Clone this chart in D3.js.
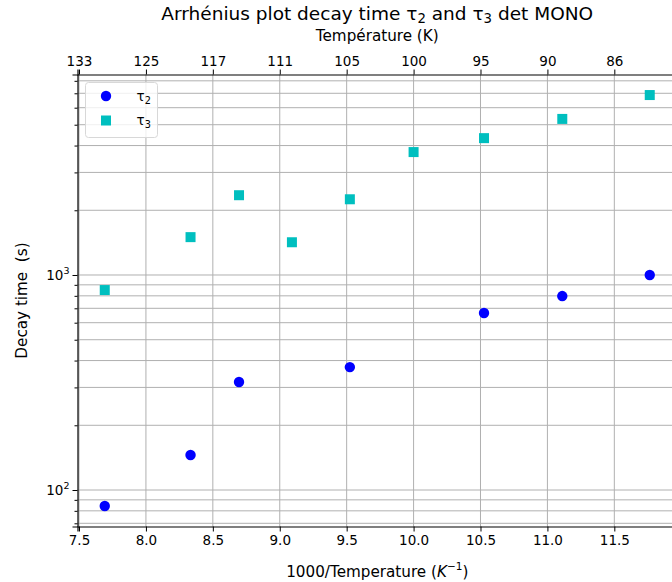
<!DOCTYPE html>
<html>
<head>
<meta charset="utf-8">
<script src="https://cdn.jsdelivr.net/npm/d3@7"></script>
<style>
  body { margin: 0; background: #fff; }
  svg { font-family: "DejaVu Sans", sans-serif; }
</style>
</head>
<body>
<div id="vizcont"></div>
<script>
// temperatures (K) of the measurements
var tempTau3 = [130, 120, 115, 110, 105, 100, 95, 90, 85];
var tau3 = [851, 1500, 2350, 1420, 2250, 3730, 4330, 5320, 6870];
var tempTau2 = [130, 120, 115, 105, 95, 90, 85];
var tau2 = [84.3, 145.5, 318, 373, 666, 798, 1000];

// top axis tick labels (temperature at the bottom ticks, truncated)
var xTicks = [7.5, 8.0, 8.5, 9.0, 9.5, 10.0, 10.5, 11.0, 11.5];
var topTickLabels = ["133", "125", "117", "111", "105", "100", "95", "90", "86"];

var W = 672, H = 582;
var margin = {top: 74.5, left: 77.5, bottom: 526.5, right: 677};

var svg = d3.select("#vizcont").append("svg")
    .attr("width", W).attr("height", H);

var inv = tempTau3.map(function(t) { return 1000 / t; });
var xe = d3.extent(inv), xpad = (xe[1] - xe[0]) * 0.05;
var x = d3.scaleLinear().domain([xe[0] - xpad, xe[1] + xpad]).range([margin.left, margin.right]);

var allY = tau2.concat(tau3).map(function(v) { return Math.log10(v); });
var ye = d3.extent(allY), ypad = (ye[1] - ye[0]) * 0.05;
var y = d3.scaleLog().domain([Math.pow(10, ye[0] - ypad), Math.pow(10, ye[1] + ypad)])
    .range([margin.bottom, margin.top]);

var gridColor = "#b0b0b0";

// minor + major y values
var yMajor = [100, 1000];
var yMinor = [];
[10, 100, 1000].forEach(function(dec) {
  for (var k = 2; k <= 9; k++) {
    var v = dec * k;
    if (v >= y.domain()[0] && v <= y.domain()[1]) yMinor.push(v);
  }
});

var grid = svg.append("g");
grid.selectAll(".gy").data(yMajor.concat(yMinor)).enter().append("line")
  .attr("x1", margin.left).attr("x2", margin.right)
  .attr("y1", function(d) { return y(d); }).attr("y2", function(d) { return y(d); })
  .attr("stroke", gridColor).attr("stroke-width", 1);
grid.selectAll(".gx").data(xTicks).enter().append("line")
  .attr("x1", function(d) { return x(d); }).attr("x2", function(d) { return x(d); })
  .attr("y1", margin.top).attr("y2", margin.bottom)
  .attr("stroke", gridColor).attr("stroke-width", 1);

// bottom axis
var gb = svg.append("g").attr("transform", "translate(0," + margin.bottom + ")")
  .call(d3.axisBottom(x).tickValues(xTicks).tickFormat(d3.format(".1f")).tickSize(5).tickPadding(4));
// top axis
var gt = svg.append("g").attr("transform", "translate(0," + margin.top + ")")
  .call(d3.axisTop(x).tickValues(xTicks).tickFormat(function(d, i) { return topTickLabels[i]; }).tickSize(5).tickPadding(4));
// left axis major
var gl = svg.append("g").attr("transform", "translate(" + margin.left + ",0)")
  .call(d3.axisLeft(y).tickValues(yMajor).tickFormat("").tickSize(5));
var glm = svg.append("g").attr("transform", "translate(" + margin.left + ",0)")
  .call(d3.axisLeft(y).tickValues(yMinor).tickFormat("").tickSize(3));

[gb, gt, gl, glm].forEach(function(g) {
  g.selectAll("text").attr("font-size", "13.5px").attr("fill", "#000")
    .attr("font-family", "DejaVu Sans");
  g.selectAll("line").attr("stroke", "#000").attr("stroke-width", 1);
  g.select(".domain").attr("stroke", "#000").attr("stroke-width", 1.2);
});
glm.select(".domain").remove();

// y major labels 10^n
yMajor.forEach(function(v) {
  var t = svg.append("text").attr("x", margin.left - 8).attr("y", y(v) + 5)
    .attr("text-anchor", "end").attr("font-size", "13.5px");
  t.append("tspan").text("10");
  t.append("tspan").attr("dy", -6).attr("font-size", "9.5px").text(String(Math.round(Math.log10(v))));
});

// markers
svg.append("g").selectAll("circle").data(tau2).enter().append("circle")
  .attr("cx", function(d, i) { return x(1000 / tempTau2[i]); })
  .attr("cy", function(d) { return y(d); })
  .attr("r", 5.2).attr("fill", "#0000ff");
svg.append("g").selectAll("rect").data(tau3).enter().append("rect")
  .attr("x", function(d, i) { return x(1000 / tempTau3[i]) - 5; })
  .attr("y", function(d) { return y(d) - 5; })
  .attr("width", 10).attr("height", 10).attr("fill", "#00bfbf");

// labels
function tauText(sel, n) {
  sel.append("tspan").text("τ");
  sel.append("tspan").attr("dy", 3).attr("font-size", "0.72em").text(n);
}
var title = svg.append("text").attr("x", (margin.left + margin.right) / 2).attr("y", 20)
  .attr("text-anchor", "middle").attr("font-size", "18.5px");
title.append("tspan").text("Arrhénius plot decay time ");
tauText(title, "2");
title.append("tspan").attr("dy", -3).text(" and ");
tauText(title, "3");
title.append("tspan").attr("dy", -3).text(" det MONO");

svg.append("text").attr("x", (margin.left + margin.right) / 2).attr("y", 41)
  .attr("text-anchor", "middle").attr("font-size", "15.2px").text("Température (K)");

var xl = svg.append("text").attr("x", (margin.left + margin.right) / 2).attr("y", 577)
  .attr("text-anchor", "middle").attr("font-size", "15.2px");
xl.append("tspan").text("1000/Temperature (");
xl.append("tspan").attr("font-style", "italic").text("K");
xl.append("tspan").attr("dy", -7).attr("font-size", "10.5px").text("−1");
xl.append("tspan").attr("dy", 7).text(")");

svg.append("text").attr("transform", "translate(27," + ((margin.top + margin.bottom) / 2) + ") rotate(-90)")
  .attr("text-anchor", "middle").attr("font-size", "15.2px").attr("xml:space", "preserve")
  .text("Decay time  (s)");

// legend
var lg = svg.append("g");
lg.append("rect").attr("x", 85.5).attr("y", 82.5).attr("width", 72).attr("height", 55)
  .attr("rx", 3).attr("fill", "#fff").attr("fill-opacity", 0.8)
  .attr("stroke", "#d8d8d8").attr("stroke-width", 1);
lg.append("circle").attr("cx", 106).attr("cy", 96).attr("r", 5.2).attr("fill", "#0000ff");
lg.append("rect").attr("x", 101).attr("y", 115.5).attr("width", 10).attr("height", 10).attr("fill", "#00bfbf");
var l1 = lg.append("text").attr("x", 136.5).attr("y", 101).attr("font-size", "13.5px");
tauText(l1, "2");
var l2 = lg.append("text").attr("x", 136.5).attr("y", 125).attr("font-size", "13.5px");
tauText(l2, "3");
</script>
</body>
</html>
